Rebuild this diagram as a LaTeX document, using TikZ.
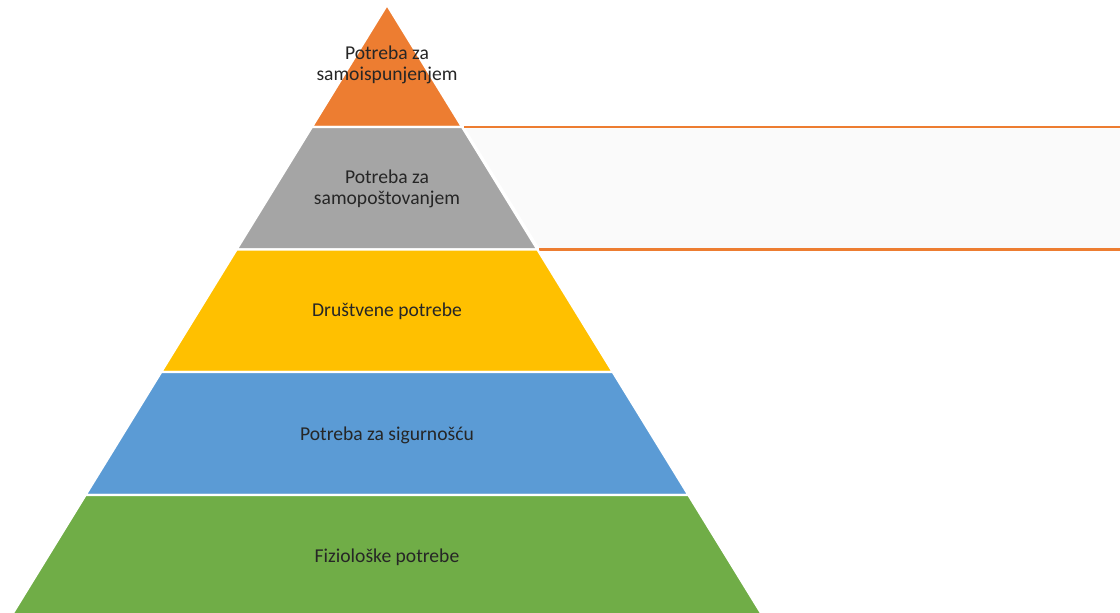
\documentclass[tikz,border=0pt]{standalone}
\usepackage{fontspec}
\setmainfont{Carlito}
\usepackage{tikz}
\usetikzlibrary{positioning}
\definecolor{layerOrange}{HTML}{ED7D31}
\definecolor{layerGray}{HTML}{A5A5A5}
\definecolor{layerGold}{HTML}{FFC000}
\definecolor{layerBlue}{HTML}{5B9BD5}
\definecolor{layerGreen}{HTML}{70AD47}
\definecolor{boxFill}{HTML}{FAFAFA}
\tikzset{
  layer/.style={draw=white, line width=1.6pt, line join=miter},
  levellabel/.style={align=center, text=black!85, font=\fontsize{14.7}{15.8}\selectfont, inner sep=0pt},
  accent/.style={draw=layerOrange, line width=1.6pt}
}

\begin{document}
\begin{tikzpicture}[x=0.75pt, y=-0.75pt]
\useasboundingbox (0,0) rectangle (1120,613);
\clip (0,0) rectangle (1120,613);
%%%%% Side box %%%%%
\fill[boxFill] (465.5,128.5) -- (1120,128.5) -- (1120,248) -- (539.5,248) -- cycle;
\draw[accent] (464,127) -- (1121,127);
\draw[accent] (539,249.5) -- (1121,249.5);
%%%%% Pyramid layers %%%%%
\foreach \ya/\yb/\col in {5/127/layerOrange, 127/249.5/layerGray, 249.5/372/layerGold, 372/495/layerBlue, 495/618/layerGreen}{
\fill[layer, fill=\col] ({387-0.615*(\ya-5)},\ya) -- ({387+0.615*(\ya-5)},\ya) -- ({387+0.615*(\yb-5)},\yb) -- ({387-0.615*(\yb-5)},\yb) -- cycle;
}
%%%%% Labels %%%%%
\node[levellabel] (selfact) at (387,65) {Potreba za\\samoispunjenjem};
\node[levellabel] (esteem) at (387,189) {Potreba za\\samopoštovanjem};
\node[levellabel] (social) at (387,311) {Društvene potrebe};
\node[levellabel] (safety) at (387,435) {Potreba za sigurnošću};
\node[levellabel] (physio) at (387,557) {Fiziološke potrebe};
\end{tikzpicture}
\end{document}
